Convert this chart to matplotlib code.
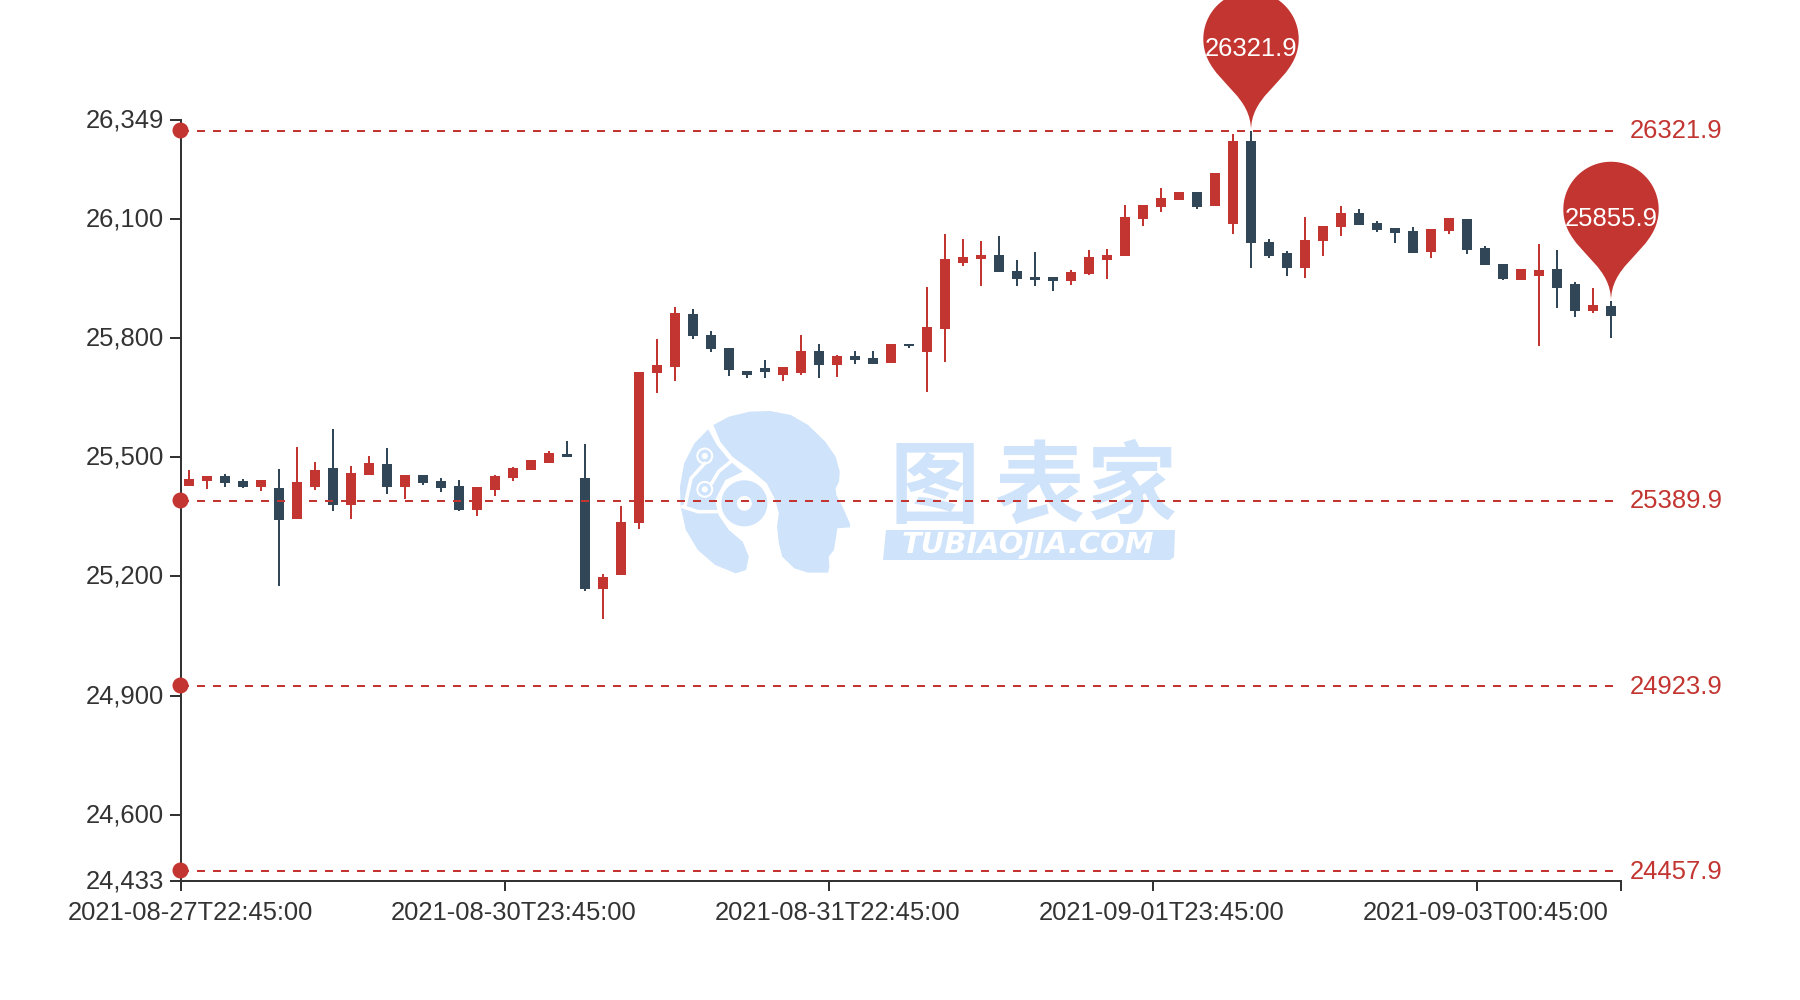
import matplotlib
matplotlib.use("Agg")
import matplotlib.pyplot as plt
import numpy as np
from matplotlib.path import Path
from matplotlib.patches import PathPatch, Polygon, Circle
from matplotlib.transforms import IdentityTransform, offset_copy, ScaledTranslation

RED = "#c23531"
DARK = "#314656"
INK = "#333333"
WM = "#cfe3fb"

plt.rcParams["font.family"] = ["Liberation Sans", "DejaVu Sans"]
plt.rcParams["lines.scale_dashes"] = False

# value of the upper edge of every candle body
body_top = [25444,25452,25452,25439,25442,25422,25438,25469,25472,25459,
            25485,25484,25454,25456,25439,25427,25424,25453,25474,25492,
            25510,25508,25447,25198,25337,25715,25732,25862,25860,25808,
            25774,25718,25724,25726,25768,25767,25755,25756,25750,25784,
            25785,25827,25999,26003,26008,26009,25969,25953,25953,25966,
            26003,26010,26104,26135,26153,26167,26168,26215,26295,26296,
            26043,26013,26047,26083,26115,26116,26090,26077,26069,26074,
            26102,26100,26026,25987,25973,25971,25973,25936,25882,25881]
# value of the lower edge of every candle body
body_bot = [25427,25441,25436,25425,25425,25341,25345,25425,25380,25379,
            25454,25424,25424,25435,25423,25368,25367,25417,25448,25468,
            25485,25500,25169,25167,25203,25334,25712,25727,25804,25772,
            25720,25708,25715,25708,25713,25732,25733,25746,25735,25736,
            25780,25766,25822,25988,25999,25966,25949,25946,25944,25943,
            25961,25997,26006,26100,26130,26147,26131,26132,26088,26039,
            26007,25976,25976,26044,26080,26084,26073,26064,26015,26017,
            26069,26022,25985,25948,25947,25955,25925,25869,25869,25855.9]
highs = [25467,25452,25458,25445,25442,25471,25526,25489,25571,25478,
         25504,25523,25454,25456,25447,25443,25424,25454,25475,25492,
         25515,25540,25533,25206,25378,25715,25798,25879,25873,25818,
         25774,25718,25745,25726,25808,25784,25757,25767,25767,25784,
         25785,25928,26061,26049,26044,26057,25996,26017,25953,25972,
         26021,26023,26135,26135,26177,26167,26168,26215,26313,26321.9,
         26050,26020,26105,26083,26132,26124,26094,26077,26080,26075,
         26102,26100,26031,25987,25973,26036,26021,25941,25926,25893]
lows = [25427,25419,25424,25423,25415,25176,25345,25417,25364,25345,
        25454,25408,25395,25431,25413,25365,25352,25403,25440,25468,
        25485,25500,25164,25093,25203,25320,25661,25692,25798,25765,
        25704,25699,25700,25692,25708,25699,25701,25735,25735,25736,
        25776,25663,25740,25981,25930,25966,25932,25930,25919,25934,
        25958,25949,26006,26081,26118,26147,26126,26132,26061,25976,
        26002,25957,25951,26007,26058,26084,26068,26040,26015,26001,
        26063,26011,25985,25946,25947,25780,25876,25853,25862,25799]
# 1 = rising (red), 0 = falling (dark)
rising = [1,1,0,0,1,0,1,1,0,1,1,0,1,0,0,0,1,1,1,1,
          1,0,0,1,1,1,1,1,0,0,0,0,0,1,1,0,1,0,0,1,
          0,1,1,1,1,0,0,0,0,1,1,1,1,1,1,1,0,1,1,0,
          0,0,1,1,1,0,0,0,0,1,1,0,0,0,1,1,0,0,1,0]

y_ticks = [24433, 24600, 24900, 25200, 25500, 25800, 26100, 26349]
x_tick_edges = [0, 18, 36, 54, 72, 80]
x_label_index = [0, 18, 36, 54, 72]
x_labels = ["2021-08-27T22:45:00", "2021-08-30T23:45:00", "2021-08-31T22:45:00",
            "2021-09-01T23:45:00", "2021-09-03T00:45:00"]
mark_lines = [26321.9, 25389.9, 24923.9, 24457.9]
pin_index = [59, 79]
pin_text = ["26321.9", "25855.9"]

W, H = 1800, 1000
fig = plt.figure(figsize=(W / 100, H / 100), dpi=100, facecolor="white")
px = 0.72  # one pixel in points

# ---------- watermark (drawn beneath the chart) ----------
wm = fig.add_axes([0, 0, 1, 1], zorder=0)
wm.set_xlim(0, W); wm.set_ylim(H, 0); wm.axis("off")
def zc(a, b):
    return (660 + a / 2.904, 400 + b / 3)
def z(points):
    return [zc(a, b) for a, b in points]
skull = [(155,75),(200,50),(260,35),(320,33),(380,45),(430,75),(480,125),(510,170),
         (522,215),(520,245),(510,265),(512,285),(530,320),(552,372),(552,382),
         (515,385),(510,420),(505,450),(490,470),(492,500),(488,518),(430,518),
         (390,505),(355,470),(345,430),(340,380),(345,340),(335,300),(310,250),
         (270,215),(210,170),(175,125)]
wm.add_patch(Polygon(z(skull), closed=True, fc=WM, ec="none"))
left = [(140,88),(100,130),(70,190),(58,260),(60,320),(75,390),(110,450),(160,495),
        (220,520),(250,510),(258,470),(240,425),(200,390),(170,345),(160,300),
        (190,240),(240,215),(205,185),(165,135)]
wm.add_patch(Polygon(z(left), closed=True, fc=WM, ec="none"))
wm.add_patch(Circle(zc(245, 310), 80 / 2.95, fc="white", ec="none"))
wm.add_patch(Circle(zc(245, 310), 68 / 2.95, fc=WM, ec="none"))
wm.add_patch(Circle(zc(245, 310), 22 / 2.95, fc="white", ec="none"))
for pts in ([(130,190),(90,235),(72,320)], [(150,250),(170,215),(205,185)],
            [(65,320),(110,335),(165,335)]):
    p = np.array(z(pts))
    wm.plot(p[:, 0], p[:, 1], color="white", lw=3.5 * px, solid_capstyle="round")
for a, b in ((130, 168), (130, 268)):
    wm.add_patch(Circle(zc(a, b), 25 / 2.95, fc="white", ec="none"))
    wm.add_patch(Circle(zc(a, b), 19 / 2.95, fc=WM, ec="none"))
    wm.add_patch(Circle(zc(a, b), 9 / 2.95, fc="white", ec="none"))
for ch, cx in zip("图表家", (934, 1039, 1132)):
    wm.text(cx, 489, ch, color=WM, fontsize=90 * px, fontweight="bold",
            ha="center", va="center", family=["Noto Sans CJK SC", "DejaVu Sans"])
wm.add_patch(Polygon([(886, 530), (1175, 530), (1174, 557), (1170, 560), (883, 560)],
                     closed=True, fc=WM, ec="none"))
wm.text(1028, 545, "TUBIAOJIA.COM", color="white", fontsize=29 * px, fontweight="bold",
        style="italic", ha="center", va="center", family="DejaVu Sans")

# ---------- chart ----------
ax = fig.add_axes([181 / W, 1 - 881 / H, 1440 / W, 761 / H], zorder=1)
ax.patch.set_alpha(0)
ax.set_xlim(0, 80)
ax.set_ylim(y_ticks[0], y_ticks[-1])

slots = np.arange(len(body_top)) + 0.5
centers = slots - 1 / 18  # the candles sit one pixel left of the band centre
colors = [RED if r else DARK for r in rising]
ax.vlines(centers, lows, highs, colors=colors, linewidth=2 * px, zorder=3)
ax.bar(centers, np.array(body_top) - np.array(body_bot), bottom=body_bot,
       width=10 / 18, color=colors, linewidth=0, zorder=4)

dot_tf = offset_copy(ax.transData, fig=fig, x=-1.5 * px, y=1 * px, units="points")
for v in mark_lines:
    ax.plot([0, 80], [v, v], color=RED, lw=2 * px, ls=(0, (8 * px, 8 * px)),
            dash_capstyle="butt", zorder=5)
    ax.plot([0], [v], "o", color=RED, ms=16 * px, mew=0, clip_on=False, zorder=6,
            transform=dot_tf)
    ax.annotate(f"{v}", xy=(80, v), xycoords="data", xytext=(9 * px, -0.5 * px),
                textcoords="offset points", color=RED, fontsize=25.6 * px,
                ha="left", va="center", annotation_clip=False)

for s in ("top", "right"):
    ax.spines[s].set_visible(False)
for s in ("left", "bottom"):
    ax.spines[s].set_color(INK)
    ax.spines[s].set_linewidth(2 * px)

ax.set_yticks(y_ticks)
ax.set_yticklabels([f"{t:,}" for t in y_ticks])
ax.tick_params(axis="y", length=11 * px, width=2 * px, color=INK, labelcolor=INK,
               labelsize=25.6 * px, pad=6 * px)
lift = ScaledTranslation(0, 2 * px / 72, fig.dpi_scale_trans)
for lab in ax.get_yticklabels():
    lab.set_transform(lab.get_transform() + lift)
ax.set_xticks(x_tick_edges)
ax.set_xticklabels([""] * len(x_tick_edges))
ax.tick_params(axis="x", which="major", length=10 * px, width=2 * px, color=INK)
ax.set_xticks(slots[x_label_index], minor=True)
ax.set_xticklabels(x_labels, minor=True)
ax.tick_params(axis="x", which="minor", length=0, labelcolor=INK,
               labelsize=25.55 * px, pad=20.5 * px)

# ---------- pins (ECharts "pin" symbol geometry) ----------
r = 47.7
D = 112.0
dy = r * r / D
ang = np.arcsin(dy / r)
dx = np.cos(ang) * r
tx, ty = np.sin(ang), np.cos(ang)
cp1, cp2 = r * 0.6, r * 0.7
pin_rise = D - dy
fig.canvas.draw()
for idx, label in zip(pin_index, pin_text):
    X, Y_up = ax.transData.transform((centers[idx], highs[idx]))
    theta = np.linspace(np.pi + ang, -ang, 60)  # over the top of the head
    cy = Y_up + pin_rise
    head = np.column_stack([X + r * np.cos(theta), cy + r * np.sin(theta)])
    verts = [tuple(p) for p in head]
    codes = [Path.MOVETO] + [Path.LINETO] * (len(verts) - 1)
    verts += [(X + dx - tx * cp1, cy - dy - ty * cp1), (X, Y_up + cp2), (X, Y_up),
              (X, Y_up + cp2), (X - dx + tx * cp1, cy - dy - ty * cp1), (X - dx, cy - dy)]
    codes += [Path.CURVE4] * 6
    fig.add_artist(PathPatch(Path(verts, codes), transform=IdentityTransform(),
                             fc=RED, ec="none", zorder=7))
    fig.text((X + 0.5) / W, (cy - 9.5) / H, label, color="white", fontsize=25.6 * px,
             ha="center", va="center", zorder=8)

fig.savefig("out.png", dpi=100, facecolor="white")
